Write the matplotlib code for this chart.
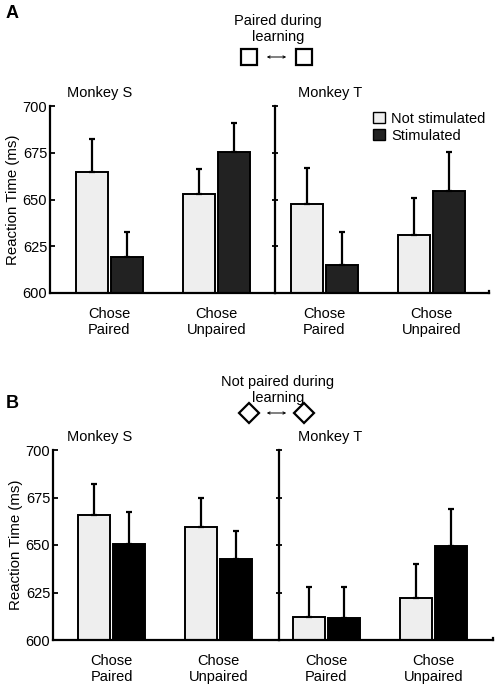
import numpy as np
import matplotlib.pyplot as plt
from matplotlib.lines import Line2D
from matplotlib.patches import FancyArrowPatch

plt.rcParams['font.family'] = ['Liberation Sans', 'DejaVu Sans']
plt.rcParams['font.size'] = 10.5

categories = ['Chose\nPaired', 'Chose\nUnpaired']
legend_labels = ['Not stimulated', 'Stimulated']
yticks = [600, 625, 650, 675, 700]

# panel A: paired during learning
A_S_not = [664.5, 653.0]
A_S_not_err = [18.0, 13.5]
A_S_stim = [619.0, 675.5]
A_S_stim_err = [13.5, 15.5]
A_T_not = [647.5, 631.0]
A_T_not_err = [19.5, 20.0]
A_T_stim = [615.0, 654.5]
A_T_stim_err = [17.5, 21.0]

# panel B: not paired during learning
B_S_not = [666.0, 659.5]
B_S_not_err = [16.0, 15.5]
B_S_stim = [650.5, 642.5]
B_S_stim_err = [17.0, 15.0]
B_T_not = [612.0, 622.0]
B_T_not_err = [16.0, 18.0]
B_T_stim = [611.5, 649.5]
B_T_stim_err = [16.5, 19.5]

W, H = 496, 688
fig = plt.figure(figsize=(W / 100, H / 100), dpi=100)

light = '#eeeeee'
unit = 107.3  # px per group step


def px_axes(x0, x1, ytop, ybot):
    return fig.add_axes([x0 / W, 1 - ybot / H, (x1 - x0) / W, (ybot - ytop) / H])


def draw_pair(ax, notv, noterr, stimv, stimerr, dark):
    x = np.arange(len(categories))
    w = 32 / unit
    off = 17.5 / unit
    ek = dict(elinewidth=1.6, capthick=1.6, ecolor='black')
    ax.bar(x - off, notv, w, color=light, edgecolor='black', linewidth=1.4,
           yerr=[np.zeros(len(noterr)), noterr], capsize=2.5, error_kw=ek, zorder=2)
    ax.bar(x + off, stimv, w, color=dark, edgecolor='black', linewidth=1.4,
           yerr=[np.zeros(len(stimerr)), stimerr], capsize=2.5, error_kw=ek, zorder=2)
    ax.set_ylim(600, 700)
    ax.set_yticks(yticks)
    ax.set_xticks(x)
    ax.set_xticklabels(categories)
    ax.tick_params(axis='x', length=0, pad=10)
    for s in ['top', 'right']:
        ax.spines[s].set_visible(False)
    ax.spines['left'].set_linewidth(1.6)
    ax.spines['bottom'].set_linewidth(1.6)


def panel(ytop, ybot, xs, S, T, dark, letter, ly, title, tty, marker, msize, my_px):
    x0, xt, xend, cS, cT = xs
    axS = px_axes(x0, xt, ytop, ybot)
    draw_pair(axS, *S, dark)
    axS.set_xlim((x0 - cS) / unit, (xt - cS) / unit)
    axS.tick_params(axis='y', direction='in', length=3.5, width=1.3, labelsize=10.5, pad=2)
    axS.set_ylabel('Reaction Time (ms)', fontsize=10.8, labelpad=2)
    fig.text(67 / W, 1 - (ytop - 6) / H, 'Monkey S', ha='left', va='bottom')

    axT = px_axes(xt, xend, ytop, ybot)
    draw_pair(axT, *T, dark)
    axT.set_xlim((xt - cT) / unit, (xend - cT) / unit)
    axT.tick_params(axis='y', direction='inout', length=4, width=1.3, labelleft=False)
    fig.text(298 / W, 1 - (ytop - 6) / H, 'Monkey T', ha='left', va='bottom')
    # small end tick of the baseline
    axT.plot([1, 1], [0, 0.012], transform=axT.transAxes, color='black', lw=1.6, clip_on=False)

    fig.text(6 / W, 1 - ly / H, letter, fontsize=13, fontweight='bold', ha='left', va='center')
    fig.text(278 / W, 1 - tty / H, title, ha='center', va='center', linespacing=1.25)
    my = 1 - my_px / H
    for mx in (249, 304):
        fig.add_artist(Line2D([mx / W], [my], marker=marker, markersize=msize,
                              markerfacecolor='white', markeredgecolor='black',
                              markeredgewidth=1.6, linestyle='none'))
    fig.patches.append(FancyArrowPatch(
        (264 / W, my), (289 / W, my), transform=fig.transFigure,
        arrowstyle='<->', mutation_scale=4, lw=0.7, color='black'))
    return axS, axT


axS, axT = panel(106, 293, [50, 275, 489, 109, 324],
                 (A_S_not, A_S_not_err, A_S_stim, A_S_stim_err),
                 (A_T_not, A_T_not_err, A_T_stim, A_T_stim_err),
                 '#222222', 'A', 14, 'Paired during\nlearning', 29, 's', 11.5, 57)

handles = [plt.Rectangle((0, 0), 1, 1, facecolor=light, edgecolor='black', lw=1),
           plt.Rectangle((0, 0), 1, 1, facecolor='#222222', edgecolor='black', lw=1)]
axT.legend(handles, legend_labels, loc='upper right', bbox_to_anchor=(1.01, 1.0),
           frameon=False, handlelength=0.8, handleheight=0.8, handletextpad=0.4,
           labelspacing=0.2, borderaxespad=0, fontsize=10.5)

panel(450, 640, [53, 279, 493, 111.5, 326],
      (B_S_not, B_S_not_err, B_S_stim, B_S_stim_err),
      (B_T_not, B_T_not_err, B_T_stim, B_T_stim_err),
      '#000000', 'B', 403, 'Not paired during\nlearning', 390, 'D', 10, 413)

fig.savefig('out.png', dpi=100)
